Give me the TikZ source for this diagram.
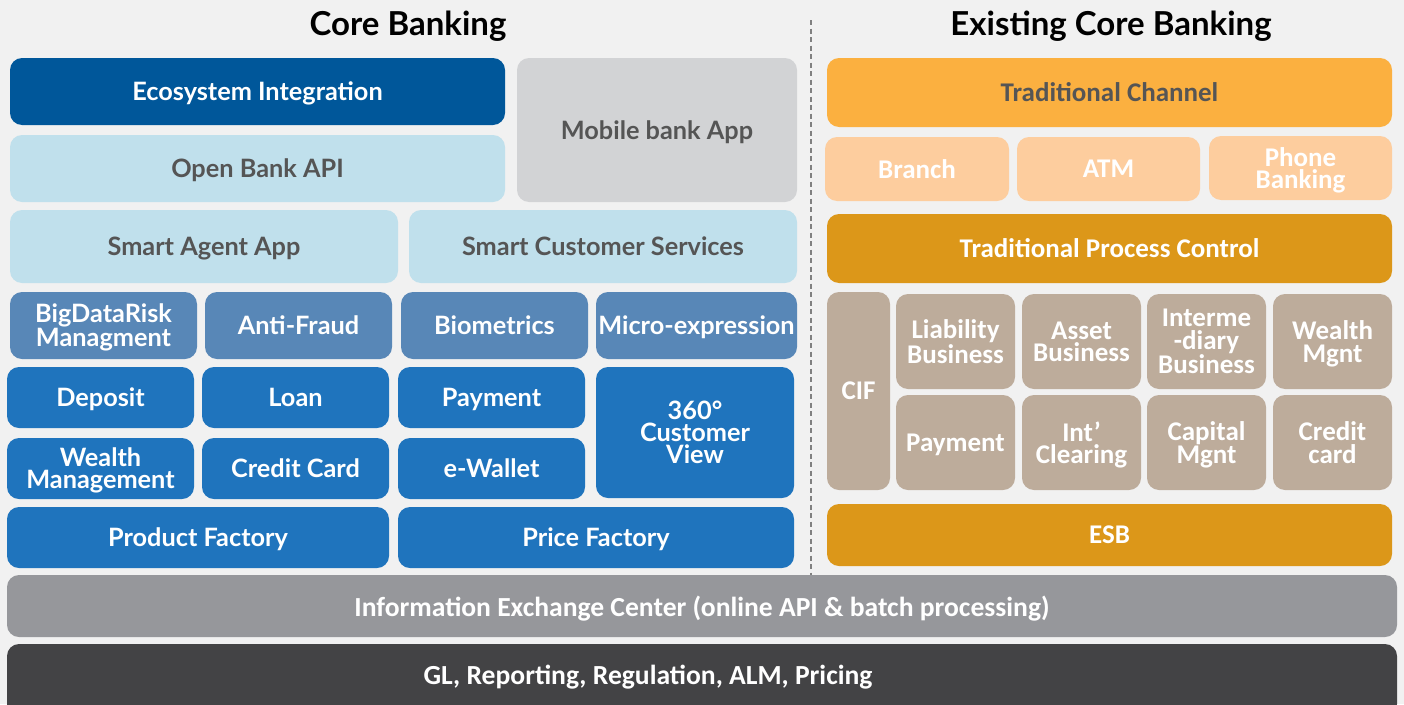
\documentclass[tikz,border=0pt]{standalone}
\usepackage{fontspec}
\setmainfont{Lato}
\newfontfamily\narrowfont{Carlito}
\usepackage{tikz}

\definecolor{bgcol}{HTML}{F1F1F1}
\definecolor{ecoblue}{HTML}{00579A}
\definecolor{apiblue}{HTML}{C0E0EC}
\definecolor{mobgray}{HTML}{D2D3D5}
\definecolor{riskblue}{HTML}{5887B7}
\definecolor{prodblue}{HTML}{1F74BD}
\definecolor{chanorange}{HTML}{FBB040}
\definecolor{peach}{HTML}{FDCD9E}
\definecolor{procorange}{HTML}{DC9719}
\definecolor{taupe}{HTML}{BDAC9B}
\definecolor{iecgray}{HTML}{96979B}
\definecolor{basedark}{HTML}{434345}
\definecolor{labelgray}{HTML}{555555}

% tile: name, style, x1, y1, x2, y2, text  (pixel coordinates, y down)
\newcommand{\tile}[7]{%
  \node[#2, minimum width={(#5-#3)*1pt}, minimum height={(#6-#4)*1pt}]
    (#1) at ({(#3+#5)/2},{(#4+#6)/2}) {#7};}

\tikzset{
  tilebase/.style={rounded corners=12pt, inner sep=0pt, outer sep=0pt, align=center,
    text depth=0pt, font=\bfseries\fontsize{25.3}{22}\selectfont, text=white},
  rightfont/.style={font=\narrowfont\bfseries\fontsize{27}{22.5}\selectfont},
  eco/.style={tilebase, fill=ecoblue},
  api/.style={tilebase, fill=apiblue, text=labelgray},
  mob/.style={tilebase, fill=mobgray, text=labelgray},
  risk/.style={tilebase, fill=riskblue},
  prod/.style={tilebase, fill=prodblue},
  chan/.style={tilebase, rightfont, fill=chanorange, text=labelgray},
  outlet/.style={tilebase, rightfont, fill=peach},
  proc/.style={tilebase, rightfont, fill=procorange},
  legacy/.style={tilebase, rightfont, fill=taupe},
  iec/.style={tilebase, fill=iecgray, font=\narrowfont\bfseries\fontsize{27.6}{22}\selectfont},
  base/.style={tilebase, fill=basedark},
  heading/.style={font=\bfseries\fontsize{33}{33}\selectfont, text=black, inner sep=0pt}
}

\begin{document}
\begin{tikzpicture}[x=1pt,y=-1pt]
  \fill[bgcol] (0,0) rectangle (1404,704);
  \useasboundingbox (0,0) rectangle (1404,704);

  % titles
  \node[heading] (coretitle) at (408,26) {Core Banking};
  \node[heading] (oldtitle) at (1111,26) {Existing Core Banking};
  \coordinate (sepTop) at (811,20);
  \coordinate (sepBot) at (811,575);
  \draw[gray, dash pattern=on 5pt off 3.5pt, line width=1.4pt] (sepTop) -- (sepBot);

  % new core banking
  \tile{eco}{eco}{10}{58}{505}{125}{Ecosystem Integration}
  \tile{api}{api}{10}{135}{505}{202}{Open Bank API}
  \tile{mobile}{mob}{517}{58}{797}{202}{Mobile bank App}
  \tile{agent}{api}{10}{210}{398}{283}{Smart Agent App}
  \tile{service}{api}{409}{210}{797}{283}{Smart Customer Services}

  \tile{bigdata}{risk}{10}{292}{197}{359}{BigDataRisk\\Managment}
  \tile{fraud}{risk}{205}{292}{392}{359}{Anti-Fraud}
  \tile{bio}{risk}{401}{292}{588}{359}{Biometrics}
  \tile{micro}{risk}{596}{292}{797}{359}{Micro-expression}

  \tile{deposit}{prod}{7}{367}{194}{428}{Deposit}
  \tile{loan}{prod}{202}{367}{389}{428}{Loan}
  \tile{payment}{prod}{398}{367}{585}{428}{Payment}
  \tile{view}{prod}{596}{367}{794}{498}{360°\\Customer\\View}
  \tile{wealth}{prod}{7}{438}{194}{499}{Wealth\\Management}
  \tile{credit}{prod}{202}{438}{389}{499}{Credit Card}
  \tile{wallet}{prod}{398}{438}{585}{499}{e-Wallet}
  \tile{product}{prod}{7}{507}{389}{568}{Product Factory}
  \tile{price}{prod}{398}{507}{794}{568}{Price Factory}

  % existing core banking
  \tile{channel}{chan}{827}{58}{1392}{127}{Traditional Channel}
  \tile{branch}{outlet}{825}{137}{1009}{201}{Branch}
  \tile{atm}{outlet}{1017}{137}{1200}{201}{ATM}
  \tile{phone}{outlet}{1209}{136}{1392}{200}{Phone\\Banking}
  \tile{process}{proc}{827}{214}{1392}{283}{Traditional Process Control}

  \tile{cif}{legacy}{827}{292}{890}{490}{CIF}
  \tile{liab}{legacy}{896}{294}{1015}{389}{Liability\\Business}
  \tile{asset}{legacy}{1022}{294}{1141}{389}{Asset\\Business}
  \tile{inter}{legacy}{1147}{294}{1266}{389}{Interme\\-diary\\Business}
  \tile{wmgnt}{legacy}{1273}{294}{1392}{389}{Wealth\\Mgnt}
  \tile{lpay}{legacy}{896}{395}{1015}{490}{Payment}
  \tile{clear}{legacy}{1022}{395}{1141}{490}{Int’\\Clearing}
  \tile{capital}{legacy}{1147}{395}{1266}{490}{Capital\\Mgnt}
  \tile{lcard}{legacy}{1273}{395}{1392}{490}{Credit\\card}
  \tile{esb}{proc}{827}{504}{1392}{566}{ESB}

  % shared layers
  \tile{exchange}{iec}{7}{575}{1397}{637}{Information Exchange Center (online API \& batch processing)}
  \tile{ledger}{base}{7}{644}{1397}{716}{}
  \node[font=\narrowfont\bfseries\fontsize{27.6}{22}\selectfont, text=white] (ledgertext) at (648,677) {GL, Reporting, Regulation, ALM, Pricing};
\end{tikzpicture}
\end{document}
